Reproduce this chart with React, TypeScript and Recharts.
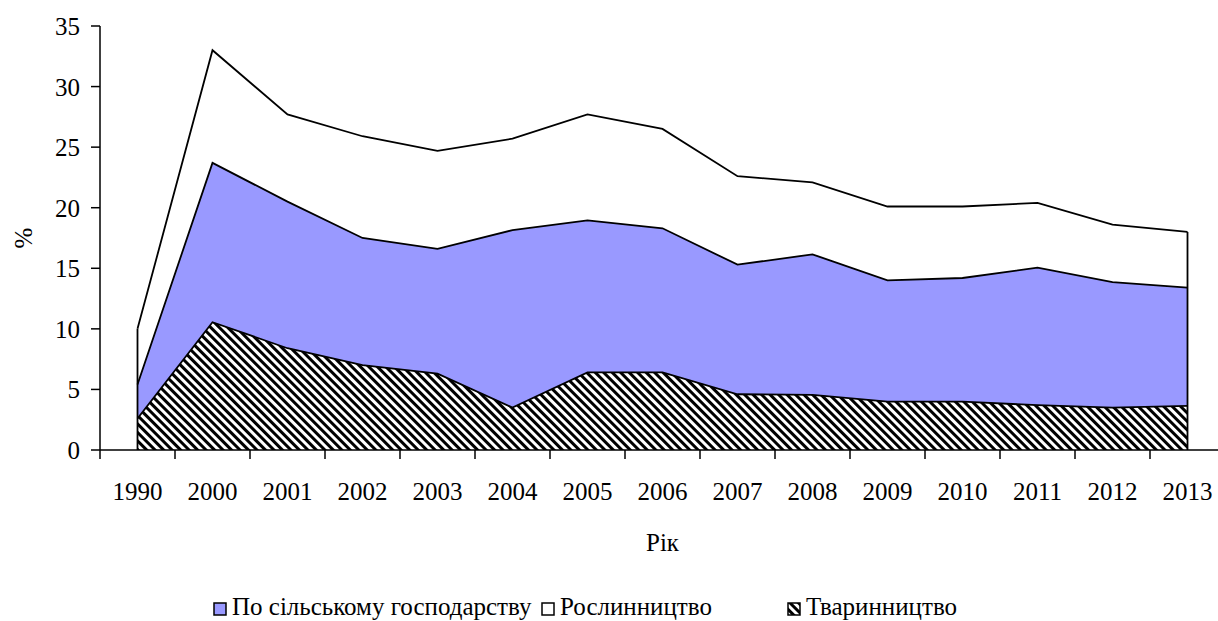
import React from 'react';
import { AreaChart, Area, XAxis, YAxis, Legend, ReferenceLine } from 'recharts';

const years = ['1990', '2000', '2001', '2002', '2003', '2004', '2005', '2006', '2007', '2008', '2009', '2010', '2011', '2012', '2013'];
const agriculture = [5.4, 23.7, 20.5, 17.5, 16.6, 18.15, 18.95, 18.3, 15.3, 16.15, 14.0, 14.2, 15.05, 13.85, 13.4];
const crops = [10.0, 33.0, 27.7, 25.9, 24.7, 25.7, 27.7, 26.5, 22.6, 22.1, 20.1, 20.1, 20.4, 18.6, 18.0];
const livestock = [2.6, 10.55, 8.4, 7.0, 6.3, 3.5, 6.4, 6.4, 4.6, 4.55, 4.0, 4.0, 3.7, 3.5, 3.65];
const yTicks = [0, 5, 10, 15, 20, 25, 30, 35];

const NAME_AGRI = 'По сільському господарству';
const NAME_CROPS = 'Рослинництво';
const NAME_LIVE = 'Тваринництво';
const X_TITLE = 'Рік';
const Y_TITLE = '%';

const data = years.map((year, i) => ({
  year,
  agriculture: agriculture[i],
  crops: crops[i],
  livestock: livestock[i],
}));

const FONT = "'Liberation Serif', 'Times New Roman', serif";
const FS = 25;
const BLUE = '#9999FF';
const HALF_STEP = 37.5;

const YearTick = (props: any) => {
  const { x, y, payload } = props;
  return (
    <g>
      <line x1={x - HALF_STEP} y1={y} x2={x - HALF_STEP} y2={y + 9} stroke="#000" strokeWidth={1.5} />
      <text x={x} y={y + 50} textAnchor="middle" fontFamily={FONT} fontSize={FS} fill="#000">
        {payload.value}
      </text>
    </g>
  );
};

const YTick = (props: any) => {
  const { x, y, payload } = props;
  return (
    <text x={x} y={y + 9} textAnchor="end" fontFamily={FONT} fontSize={FS} fill="#000">
      {payload.value}
    </text>
  );
};

const XTitle = (props: any) => {
  const vb = props.viewBox || {};
  return (
    <text x={vb.x + vb.width / 2} y={vb.y + 101} textAnchor="middle" fontFamily={FONT} fontSize={FS} fill="#000">
      {X_TITLE}
    </text>
  );
};

const YTitle = (props: any) => {
  const vb = props.viewBox || {};
  const cx = vb.x + 32;
  const cy = vb.y + vb.height / 2;
  return (
    <text x={cx} y={cy} transform={`rotate(-90, ${cx}, ${cy})`} textAnchor="middle" fontFamily={FONT} fontSize={FS} fill="#000">
      {Y_TITLE}
    </text>
  );
};

const legendItems = [
  { name: NAME_AGRI, fill: BLUE, left: 213 },
  { name: NAME_CROPS, fill: '#fff', left: 541 },
  { name: NAME_LIVE, fill: 'url(#hatchLegend)', left: 787 },
];

const renderLegend = () => (
  <div style={{ position: 'relative', width: 1218, height: 30, fontFamily: FONT, fontSize: FS, color: '#000' }}>
    {legendItems.map((it) => (
      <div key={it.name} style={{ position: 'absolute', left: it.left, top: 0, display: 'flex', alignItems: 'center', whiteSpace: 'nowrap', lineHeight: '30px' }}>
        <svg width={14} height={14} style={{ display: 'block', marginTop: 3 }}>
          <defs>
            <pattern id="hatchLegend" width="6" height="6" patternUnits="userSpaceOnUse" patternTransform="rotate(-45)">
              <rect width="6" height="6" fill="#fff" />
              <rect width="3" height="6" fill="#000" />
            </pattern>
          </defs>
          <rect x={1} y={1} width={12} height={12} fill={it.fill} stroke="#000" strokeWidth={1.5} />
        </svg>
        <span style={{ marginLeft: 5 }}>{it.name}</span>
      </div>
    ))}
  </div>
);

export default function App() {
  return (
    <div style={{ position: 'absolute', left: 0, top: 0, width: 1218, height: 621, overflow: 'hidden', background: '#fff', fontFamily: FONT }}>
      <AreaChart width={1240} height={621} data={data} margin={{ top: 26, right: 15, left: 0, bottom: 71 }}>
        <defs>
          <pattern id="hatch" width="6" height="6" patternUnits="userSpaceOnUse" patternTransform="rotate(-45)">
            <rect width="6" height="6" fill="#fff" />
            <rect width="3" height="6" fill="#000" />
          </pattern>
        </defs>
        <XAxis
          dataKey="year"
          padding={{ left: HALF_STEP, right: HALF_STEP }}
          height={100}
          interval={0}
          tickLine={false}
          tickSize={0}
          tickMargin={0}
          tick={<YearTick />}
          axisLine={{ stroke: '#000', strokeWidth: 1.5 }}
          label={<XTitle />}
        />
        <YAxis
          width={100}
          domain={[0, 35]}
          ticks={yTicks}
          interval={0}
          tickSize={9}
          tickMargin={11}
          tick={<YTick />}
          tickLine={{ stroke: '#000', strokeWidth: 1.5 }}
          axisLine={{ stroke: '#000', strokeWidth: 1.5 }}
          label={<YTitle />}
        />
        <Area type="linear" dataKey="crops" name={NAME_CROPS} fill="#fff" fillOpacity={1} stroke="#000" strokeWidth={1.8} isAnimationActive={false} dot={false} activeDot={false} />
        <Area type="linear" dataKey="agriculture" name={NAME_AGRI} fill={BLUE} fillOpacity={1} stroke="#000" strokeWidth={1.8} isAnimationActive={false} dot={false} activeDot={false} />
        <Area type="linear" dataKey="livestock" name={NAME_LIVE} fill="url(#hatch)" fillOpacity={1} stroke="#000" strokeWidth={1.8} isAnimationActive={false} dot={false} activeDot={false} />
        <ReferenceLine segment={[{ x: years[0], y: 0 }, { x: years[0], y: crops[0] }]} stroke="#000" strokeWidth={1.8} />
        <ReferenceLine segment={[{ x: years[years.length - 1], y: 0 }, { x: years[years.length - 1], y: crops[crops.length - 1] }]} stroke="#000" strokeWidth={1.8} />
        <Legend
          layout="horizontal"
          verticalAlign="middle"
          align="center"
          content={renderLegend}
          wrapperStyle={{ top: 592, left: 0, width: 1218, height: 30 }}
        />
      </AreaChart>
    </div>
  );
}
